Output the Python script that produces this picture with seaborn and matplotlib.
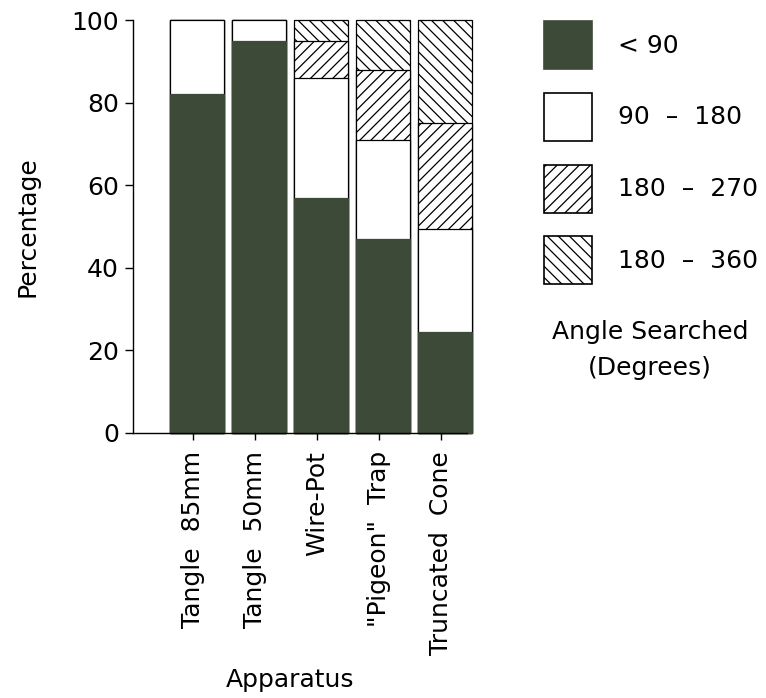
import numpy as np
import pandas as pd
import matplotlib
matplotlib.use('Agg')
import matplotlib.pyplot as plt
import seaborn as sns
from matplotlib.patches import Patch

# ---- data (percentages) ----
apparatus = ['Tangle  85mm', 'Tangle  50mm', 'Wire-Pot', '"Pigeon"  Trap', 'Truncated  Cone']
angle_labels = ['< 90', '90  \u2013  180', '180  \u2013  270', '180  \u2013  360']
lt90 = [82, 95, 57, 47, 24.5]
a90_180 = [18, 5, 29, 24, 25]
a180_270 = [0, 0, 9, 17, 25.5]
a180_360 = [0, 0, 5, 12, 25]
y_ticks = [0, 20, 40, 60, 80, 100]

dark = '#3d4a37'
fills = [dark, 'white', 'white', 'white']
hatches = [None, None, '///', '\\\\\\']

sns.set_style('ticks')
plt.rcParams['font.family'] = ['DejaVu Sans']
plt.rcParams['hatch.linewidth'] = 0.9
plt.rcParams['text.color'] = 'black'
plt.rcParams['axes.labelcolor'] = 'black'
plt.rcParams['xtick.color'] = 'black'
plt.rcParams['ytick.color'] = 'black'

df = pd.DataFrame({'apparatus': apparatus, 'lt90': lt90, 'a90_180': a90_180,
                   'a180_270': a180_270, 'a180_360': a180_360})
segs = ['lt90', 'a90_180', 'a180_270', 'a180_360']
cum = df[segs].cumsum(axis=1)

fig = plt.figure(figsize=(7.66, 6.98), dpi=100)
ax = fig.add_axes([0.1736, 0.3797, 0.436, 0.5916])

# stacked bars by overlaying cumulative totals, biggest first
for i in reversed(range(len(segs))):
    sns.barplot(x=df['apparatus'], y=cum[segs[i]], ax=ax, color=fills[i],
                saturation=1, width=0.87, errorbar=None, hatch=hatches[i],
                edgecolor='black' if i > 0 else dark, linewidth=0.9)
for p in ax.patches:
    p.set_clip_on(False)

ax.set_ylim(0, 100)
ax.set_xlim(-1.04, 4.35)
ax.set_yticks(y_ticks)
ax.set_xticks(np.arange(len(apparatus)) - 0.065)
ax.set_xticklabels(apparatus, rotation=90, fontsize=18)
ax.tick_params(axis='y', labelsize=18, length=6, width=1, pad=4)
ax.tick_params(axis='x', length=5, width=1, pad=8)
sns.despine(ax=ax)
for s in ['left', 'bottom']:
    ax.spines[s].set_linewidth(1)
    ax.spines[s].set_color('black')

ax.set_ylabel('Percentage', fontsize=18)
ax.yaxis.set_label_coords(-0.28, 0.5)
ax.set_xlabel('Apparatus', fontsize=18)
ax.xaxis.set_label_coords(0.47, -0.57)

handles = [Patch(facecolor=fills[i], edgecolor='black' if i > 0 else dark,
                 hatch=hatches[i], linewidth=1.2) for i in range(4)]
leg = fig.legend(handles, angle_labels, loc='upper left',
                 bbox_to_anchor=(544 / 766, 1 - 21 / 698), frameon=False,
                 fontsize=18, handlelength=1.92, handleheight=2.58,
                 labelspacing=0.95, handletextpad=1.04, borderpad=0, borderaxespad=0)

fig.text(650 / 766, 1 - 350 / 698, 'Angle Searched\n(Degrees)', ha='center', va='center',
         fontsize=18, linespacing=1.6)

fig.savefig('out.png', dpi=100)
